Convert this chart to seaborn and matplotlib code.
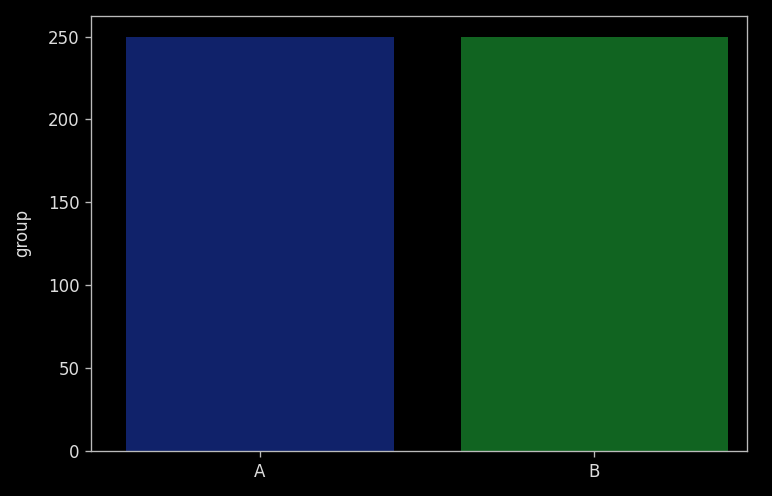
import matplotlib
matplotlib.use("Agg")
import matplotlib.pyplot as plt
import seaborn as sns
import pandas as pd

categories = ["A", "B"]
values = [250, 250]
colors = ["#10226a", "#116421"]

df = pd.DataFrame({"cat": categories, "group": values})

plt.style.use("dark_background")
plt.rcParams["font.family"] = ["DejaVu Sans"]
plt.rcParams["axes.edgecolor"] = "#bbbbbb"
plt.rcParams["xtick.color"] = "#bbbbbb"
plt.rcParams["ytick.color"] = "#bbbbbb"
plt.rcParams["xtick.labelcolor"] = "#dddddd"
plt.rcParams["ytick.labelcolor"] = "#dddddd"
plt.rcParams["axes.labelcolor"] = "#dddddd"

fig, ax = plt.subplots(figsize=(7.72 / 1.2, 4.96 / 1.2), dpi=120)
fig.patch.set_facecolor("black")
ax.set_facecolor("black")
sns.barplot(data=df, x="cat", y="group", hue="cat", palette=colors,
            saturation=1, legend=False, ax=ax)
ax.set_xlabel("")
ax.set_ylabel("group", labelpad=10)
ax.set_xlim(-0.504, 1.457)
fig.subplots_adjust(left=0.118, right=0.968, top=0.968, bottom=0.091)
fig.savefig("out.png", dpi=120, facecolor="black")
